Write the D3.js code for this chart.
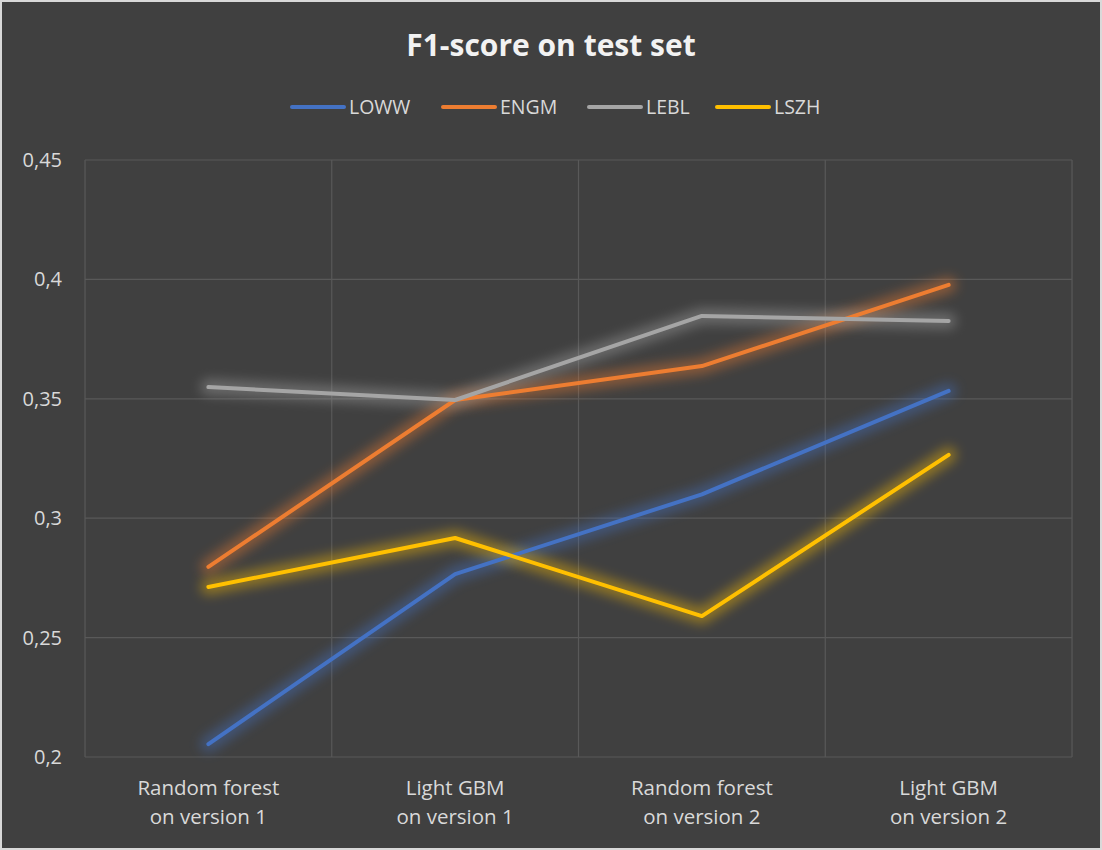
<!DOCTYPE html>
<html>
<head>
<meta charset="utf-8">
<script src="https://cdn.jsdelivr.net/npm/d3@7"></script>
<style>
  body { margin: 0; background: #ffffff; }
  text { font-family: "Open Sans", "Noto Sans", sans-serif; }
</style>
</head>
<body>
<div id="chart"></div>
<script>
var svgWidth = 1102;
var svgHeight = 850;

// Chart data
var categories = ["Random forest\non version 1", "Light GBM\non version 1", "Random forest\non version 2", "Light GBM\non version 2"];
var seriesNames = ["LOWW", "ENGM", "LEBL", "LSZH"];
var seriesColors = ["#4472c4", "#ed7d31", "#a5a5a5", "#ffc000"];
var lowwValues = [0.2054, 0.2766, 0.3100, 0.3533];
var engmValues = [0.2796, 0.3495, 0.3637, 0.3977];
var leblValues = [0.3549, 0.3495, 0.3847, 0.3826];
var lszhValues = [0.2712, 0.2917, 0.2590, 0.3265];
var yTicks = [0.2, 0.25, 0.3, 0.35, 0.4, 0.45];

var allValues = [lowwValues, engmValues, leblValues, lszhValues];

var margin = { top: 160, right: 30, bottom: 93, left: 85 };
var width = svgWidth - margin.left - margin.right;
var height = svgHeight - margin.top - margin.bottom;

var svg = d3.select("#chart")
  .append("svg")
  .attr("width", svgWidth)
  .attr("height", svgHeight);

// glow filters
var defs = svg.append("defs");
seriesColors.forEach(function(c, i) {
  var f = defs.append("filter")
    .attr("id", "glow" + i)
    .attr("x", "-20%").attr("y", "-20%")
    .attr("width", "140%").attr("height", "140%");
  f.append("feGaussianBlur")
    .attr("in", "SourceGraphic")
    .attr("stdDeviation", 6);
});

// background + border
svg.append("rect")
  .attr("x", 1).attr("y", 1)
  .attr("width", svgWidth - 2).attr("height", svgHeight - 2)
  .attr("fill", "#404040")
  .attr("stroke", "#d9d9d9")
  .attr("stroke-width", 2);

var chartGroup = svg.append("g")
  .attr("transform", `translate(${margin.left}, ${margin.top})`);

var xScale = d3.scaleBand()
  .domain(categories)
  .range([0, width]);

var yScale = d3.scaleLinear()
  .domain([0.2, 0.45])
  .range([height, 0]);

// horizontal gridlines
chartGroup.append("g")
  .selectAll("line")
  .data(yTicks)
  .enter()
  .append("line")
  .attr("x1", 0)
  .attr("x2", width)
  .attr("y1", d => yScale(d))
  .attr("y2", d => yScale(d))
  .attr("stroke", "#595959")
  .attr("stroke-width", 1.2);

// vertical gridlines (category boundaries)
var vLines = categories.map(d => xScale(d)).concat([width]);
chartGroup.append("g")
  .selectAll("line")
  .data(vLines)
  .enter()
  .append("line")
  .attr("x1", d => d)
  .attr("x2", d => d)
  .attr("y1", 0)
  .attr("y2", height)
  .attr("stroke", "#595959")
  .attr("stroke-width", 1.2);

// y tick labels
var leftAxis = d3.axisLeft(yScale)
  .tickValues(yTicks)
  .tickSize(0)
  .tickPadding(23)
  .tickFormat(d => String(+d.toFixed(2)).replace(".", ","));

var yAxis = chartGroup.append("g").call(leftAxis);
yAxis.select(".domain").remove();
yAxis.selectAll("text")
  .attr("fill", "#d9d9d9")
  .style("font-size", "20px");

// x labels (two lines)
var xLabels = chartGroup.append("g")
  .selectAll("text")
  .data(categories)
  .enter()
  .append("text")
  .attr("x", d => xScale(d) + xScale.bandwidth() / 2)
  .attr("y", height + 38)
  .attr("text-anchor", "middle")
  .attr("fill", "#d9d9d9")
  .style("font-size", "20.5px");

xLabels.each(function(d) {
  var t = d3.select(this);
  d.split("\n").forEach(function(line, i) {
    t.append("tspan")
      .attr("x", xScale(d) + xScale.bandwidth() / 2)
      .attr("dy", i === 0 ? 0 : 29)
      .text(line);
  });
});

var line = d3.line()
  .x((d, i) => xScale(categories[i]) + xScale.bandwidth() / 2)
  .y(d => yScale(d));

// glows first
allValues.forEach(function(vals, i) {
  chartGroup.append("path")
    .datum(vals)
    .attr("d", line)
    .attr("fill", "none")
    .attr("stroke", seriesColors[i])
    .attr("stroke-width", 16)
    .attr("stroke-linecap", "round")
    .attr("stroke-linejoin", "round")
    .attr("opacity", 0.42)
    .attr("filter", `url(#glow${i})`);
});

// lines
allValues.forEach(function(vals, i) {
  chartGroup.append("path")
    .datum(vals)
    .attr("d", line)
    .attr("fill", "none")
    .attr("stroke", seriesColors[i])
    .attr("stroke-width", 4)
    .attr("stroke-linecap", "round")
    .attr("stroke-linejoin", "round");
});

// title
svg.append("text")
  .attr("x", svgWidth / 2)
  .attr("y", 56)
  .attr("text-anchor", "middle")
  .attr("fill", "#f2f2f2")
  .style("font-size", "30px")
  .style("font-weight", "bold")
  .text("F1-score on test set");

// legend
var legendX = [292, 443, 589, 717];
var legend = svg.append("g")
  .selectAll("g")
  .data(seriesNames)
  .enter()
  .append("g")
  .attr("transform", (d, i) => `translate(${legendX[i]}, 107)`);

legend.append("line")
  .attr("x1", 0)
  .attr("x2", 52)
  .attr("y1", 0)
  .attr("y2", 0)
  .attr("stroke", (d, i) => seriesColors[i])
  .attr("stroke-width", 4)
  .attr("stroke-linecap", "round");

legend.append("text")
  .attr("x", 57)
  .attr("y", 7)
  .attr("fill", "#d9d9d9")
  .style("font-size", "19.5px")
  .text(d => d);
</script>
</body>
</html>
